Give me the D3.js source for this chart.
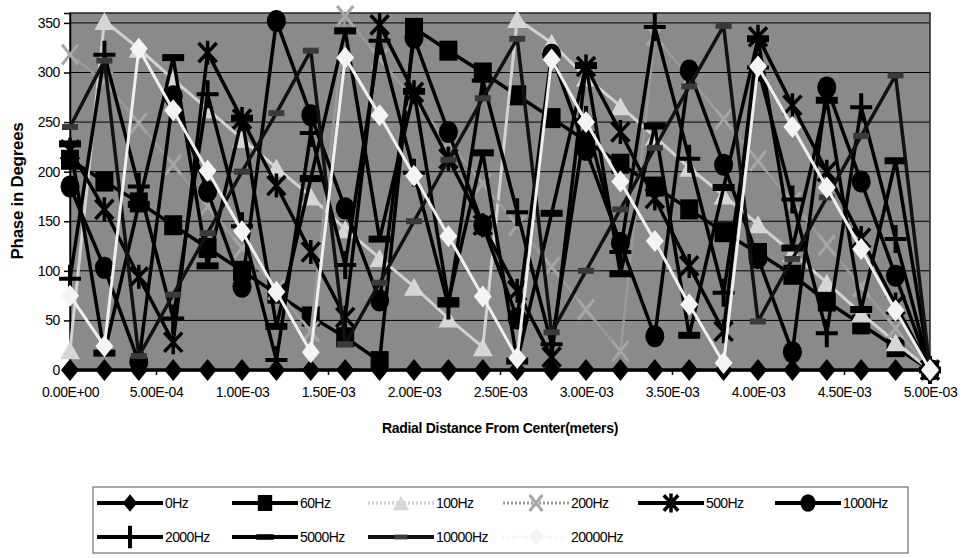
<!DOCTYPE html>
<html><head><meta charset="utf-8">
<script src="https://cdn.jsdelivr.net/npm/d3@7"></script>
<style>
html,body{margin:0;padding:0;background:#fff;}
svg{display:block;font-family:"Liberation Sans",Arial,Helvetica,sans-serif;}
</style></head><body>
<svg id="chart" width="963" height="558"></svg>
<script>
// Radial sample positions (meters) and axis ticks
const radius = [0, 0.0002, 0.0004, 0.0006, 0.0008, 0.001, 0.0012, 0.0014, 0.0016, 0.0018,
  0.002, 0.0022, 0.0024, 0.0026, 0.0028, 0.003, 0.0032, 0.0034, 0.0036, 0.0038,
  0.004, 0.0042, 0.0044, 0.0046, 0.0048, 0.005];
const xTicks = [0, 0.0005, 0.001, 0.0015, 0.002, 0.0025, 0.003, 0.0035, 0.004, 0.0045, 0.005];
const yTicks = [0, 50, 100, 150, 200, 250, 300, 350];

// Phase (degrees) at each radius, one array per drive frequency
const hz0     = [0,0,0,0,0,0,0,0,0,0,0,0,0,0,0,0,0,0,0,0,0,0,0,0,0,0];
const hz60    = [212,190,169,146,123,100,77,54,33,9,345,322,300,277,254,231,208,185,162,139,118,96,69,46,23,0];
const hz100   = [20,352,324,293,263,233,204,175,142,113,84,52,23,354,330,295,266,235,204,176,147,118,88,57,28,0];
const hz200   = [318,291,249,207,165,123,81,39,357,314,272,230,188,146,104,61,19,337,295,253,211,169,126,84,42,0];
const hz500   = [222,162,94,28,320,253,186,119,53,348,280,213,146,80,13,306,240,173,105,39,336,267,200,133,66,0];
const hz1000  = [185,103,8,276,180,84,352,257,163,70,335,240,146,52,318,222,128,34,302,207,113,18,285,190,95,0];
const hz2000  = [92,318,185,52,278,145,10,239,106,332,199,65,292,159,26,252,119,346,213,78,305,172,37,265,132,0];
const hz5000  = [228,17,167,315,105,254,44,193,342,132,281,70,219,9,158,307,97,246,35,184,334,123,272,61,211,0];
const hz10000 = [245,312,14,76,138,200,259,322,26,88,150,212,274,334,38,100,162,224,286,347,49,112,174,236,297,0];
const hz20000 = [75,24,324,262,201,140,79,18,315,257,196,135,74,12,313,250,190,130,66,7,306,245,184,122,60,0];

const seriesNames = ["0Hz","60Hz","100Hz","200Hz","500Hz","1000Hz","2000Hz","5000Hz","10000Hz","20000Hz"];
const seriesValues = [hz0, hz60, hz100, hz200, hz500, hz1000, hz2000, hz5000, hz10000, hz20000];

// Drawing style for each frequency
const styles = {
  "0Hz":     {line:"#000", lw:3.5, marker:"diamond",  mw:9,  mh:11, fill:"#000"},
  "60Hz":    {line:"#000", lw:3.5, marker:"square",   mw:9,  mh:10, fill:"#000"},
  "100Hz":   {line:"#d2d2d2", lw:3, marker:"triangle", mw:10, mh:9,  fill:"#d6d6d6", dash:"2,2"},
  "200Hz":   {line:"#9a9a9a", lw:2.5, marker:"x",     mw:8,  mh:10, stroke:"#a6a6a6", sw:3, dash:"2,2"},
  "500Hz":   {line:"#000", lw:3.5, marker:"star",     mw:9,  mh:12, stroke:"#000", sw:3.5},
  "1000Hz":  {line:"#000", lw:3.5, marker:"circle",   mw:9.5,mh:11, fill:"#000"},
  "2000Hz":  {line:"#000", lw:3.5, marker:"plus",     mw:11, mh:14, stroke:"#000", sw:4},
  "5000Hz":  {line:"#000", lw:3.5, marker:"dash",     mw:11, mh:3.5, fill:"#000"},
  "10000Hz": {line:"#111", lw:3.5, marker:"dash",     mw:8,  mh:3,  fill:"#3a3a3a"},
  "20000Hz": {line:"#efefef", lw:3, marker:"diamond", mw:9,  mh:11, fill:"#f4f4f4", dash:"1,2"}
};

function markerPath(type, w, h) {
  switch (type) {
    case "diamond":  return `M0,${-h}L${w},0L0,${h}L${-w},0Z`;
    case "square":   return `M${-w},${-h}H${w}V${h}H${-w}Z`;
    case "triangle": return `M0,${-h}L${w},${h}L${-w},${h}Z`;
    case "circle":   return `M${-w},0a${w},${h} 0 1,0 ${2*w},0a${w},${h} 0 1,0 ${-2*w},0Z`;
    case "plus":     return `M${-w},0H${w}M0,${-h}V${h}`;
    case "star":     return `M${-w},${-h*0.8}L${w},${h*0.8}M${w},${-h*0.8}L${-w},${h*0.8}M0,${-h}V${h}`;
    case "x":        return `M${-w},${-h}L${w},${h}M${w},${-h}L${-w},${h}`;
    case "dash":     return `M${-w},${-h}H${w}V${h}H${-w}Z`;
  }
  return "";
}
function styleMarker(sel, st) {
  if (st.fill) sel.attr("fill", st.fill).attr("stroke", "none");
  else sel.attr("fill", "none").attr("stroke", st.stroke).attr("stroke-width", st.sw).attr("stroke-linecap", "butt");
}

function sci(v) {
  return v.toExponential(2).toUpperCase().replace(/E([+-])(\d)$/, (m, s, d) => "E" + s + "0" + d);
}

const svg = d3.select("#chart");
const plot = {left: 70, right: 930, top: 13, bottom: 370};
const x = d3.scaleLinear().domain([0, 0.005]).range([plot.left, plot.right]);
const y = d3.scaleLinear().domain([0, 360]).range([plot.bottom, plot.top]);

// Plot area
svg.append("rect").attr("x", plot.left).attr("y", plot.top)
  .attr("width", plot.right - plot.left).attr("height", plot.bottom - plot.top)
  .attr("fill", "#8a8a8a");

svg.append("g").selectAll("line").data(yTicks.filter(v => v > 0)).join("line")
  .attr("x1", plot.left).attr("x2", plot.right)
  .attr("y1", d => y(d)).attr("y2", d => y(d))
  .attr("stroke", "#000").attr("stroke-width", 1);

svg.append("rect").attr("x", plot.left).attr("y", plot.top)
  .attr("width", plot.right - plot.left).attr("height", plot.bottom - plot.top)
  .attr("fill", "none").attr("stroke", "#222").attr("stroke-width", 1.5);

// Axes
const yAxis = svg.append("g").attr("transform", `translate(${plot.left},0)`)
  .call(d3.axisLeft(y).tickValues(yTicks).tickSize(6).tickPadding(4).tickFormat(d3.format("d")));
const xAxis = svg.append("g").attr("transform", `translate(0,${plot.bottom})`)
  .call(d3.axisBottom(x).tickValues(xTicks).tickSize(5).tickPadding(12).tickFormat(sci));
[yAxis, xAxis].forEach(a => {
  a.selectAll("text").attr("font-size", 14).attr("fill", "#000").attr("letter-spacing", "-0.4px")
    .attr("font-family", "'Liberation Sans',Arial,sans-serif");
  a.selectAll("line,path").attr("stroke", "#000").attr("stroke-width", 1.5);
});

// Axis titles
svg.append("text").attr("transform", "translate(23,191) rotate(-90)")
  .attr("text-anchor", "middle").attr("font-size", 17).attr("font-weight", "bold")
  .attr("letter-spacing", "-0.3px").text("Phase in Degrees");
svg.append("text").attr("x", 500).attr("y", 433).attr("text-anchor", "middle")
  .attr("font-size", 14).attr("font-weight", "bold").attr("letter-spacing", "-0.3px")
  .text("Radial Distance From Center(meters)");

// Series
const lineGen = d3.line().x((d, i) => x(radius[i])).y(d => y(d));
seriesNames.forEach((name, k) => {
  const st = styles[name];
  const vals = seriesValues[k];
  const g = svg.append("g").attr("class", "series");
  g.append("path").attr("d", lineGen(vals)).attr("fill", "none")
    .attr("stroke", st.line).attr("stroke-width", st.lw).attr("stroke-linejoin", "round");
  const m = g.selectAll("path.mk").data(vals).join("path").attr("class", "mk")
    .attr("transform", (d, i) => `translate(${x(radius[i])},${y(d)})`)
    .attr("d", markerPath(st.marker, st.mw, st.mh));
  styleMarker(m, st);
});

// Legend
const legend = svg.append("g");
legend.append("rect").attr("x", 93).attr("y", 487).attr("width", 815).attr("height", 66)
  .attr("fill", "#fff").attr("stroke", "#555").attr("stroke-width", 1);
const colStart = [97, 232, 368, 503, 638, 775];
const rowY = [503, 537];
seriesNames.forEach((name, k) => {
  const st = styles[name];
  const cx = colStart[k % 6], cy = rowY[Math.floor(k / 6)];
  const g = legend.append("g");
  const ln = g.append("line").attr("x1", cx).attr("x2", cx + 66).attr("y1", cy).attr("y2", cy)
    .attr("stroke", st.line).attr("stroke-width", st.lw + 0.5);
  if (st.dash) ln.attr("stroke-dasharray", st.dash);
  const mk = g.append("path").attr("transform", `translate(${cx + 33},${cy})`)
    .attr("d", markerPath(st.marker, st.mw * 0.8, st.mh * 0.8));
  styleMarker(mk, st);
  g.append("text").attr("x", cx + 68).attr("y", cy + 5).attr("font-size", 14)
    .attr("letter-spacing", "-0.6px").attr("fill", "#000").text(name);
});
</script></body></html>
